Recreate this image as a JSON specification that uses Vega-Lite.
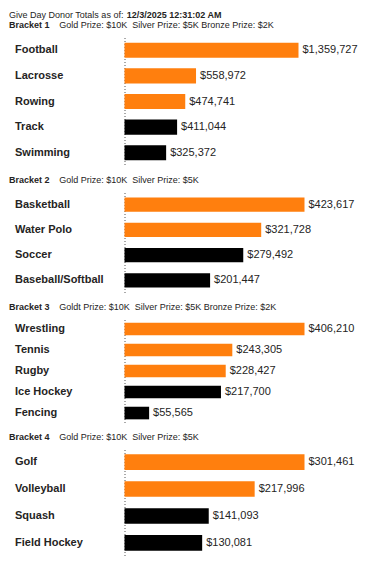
{
  "$schema": "https://vega.github.io/schema/vega-lite/v6.json",
  "padding": {"left": 8.5, "top": 10.5, "right": 5, "bottom": 5},
  "title": {
    "text": "Give Day Donor Totals as of:",
    "subtitle": "\u200b\u2003\u2003\u2003\u2003\u2003\u2003\u2003\u2003\u2003\u2003\u2003\u2003\u2003\u200a12/3/2025 12:31:02 AM",
    "anchor": "start",
    "fontSize": 9,
    "fontWeight": "normal",
    "subtitleFontSize": 9,
    "subtitleFontWeight": "bold",
    "subtitlePadding": -9,
    "color": "#252423",
    "subtitleColor": "#252423",
    "font": "Liberation Sans",
    "subtitleFont": "Liberation Sans",
    "offset": 1,
    "dx": 0
  },
  "data": {
    "values": [
      {"bracket": 1, "sport": "Football", "amount": 1359727, "prize": "Gold"},
      {"bracket": 1, "sport": "Lacrosse", "amount": 558972, "prize": "Silver"},
      {"bracket": 1, "sport": "Rowing", "amount": 474741, "prize": "Bronze"},
      {"bracket": 1, "sport": "Track", "amount": 411044, "prize": "None"},
      {"bracket": 1, "sport": "Swimming", "amount": 325372, "prize": "None"},
      {"bracket": 2, "sport": "Basketball", "amount": 423617, "prize": "Gold"},
      {"bracket": 2, "sport": "Water Polo", "amount": 321728, "prize": "Silver"},
      {"bracket": 2, "sport": "Soccer", "amount": 279492, "prize": "None"},
      {"bracket": 2, "sport": "Baseball/Softball", "amount": 201447, "prize": "None"},
      {"bracket": 3, "sport": "Wrestling", "amount": 406210, "prize": "Gold"},
      {"bracket": 3, "sport": "Tennis", "amount": 243305, "prize": "Silver"},
      {"bracket": 3, "sport": "Rugby", "amount": 228427, "prize": "Bronze"},
      {"bracket": 3, "sport": "Ice Hockey", "amount": 217700, "prize": "None"},
      {"bracket": 3, "sport": "Fencing", "amount": 55565, "prize": "None"},
      {"bracket": 4, "sport": "Golf", "amount": 301461, "prize": "Gold"},
      {"bracket": 4, "sport": "Volleyball", "amount": 217996, "prize": "Silver"},
      {"bracket": 4, "sport": "Squash", "amount": 141093, "prize": "None"},
      {"bracket": 4, "sport": "Field Hockey", "amount": 130081, "prize": "None"}
    ]
  },
  "spacing": 10,
  "resolve": {"scale": {"x": "independent", "y": "independent"}},
  "vconcat": [
    {
      "title": {"text": "Bracket 1", "subtitle": "\u200b\u2003\u2003\u2003\u2003\u2003\u2002\u200aGold Prize: $10K\u00a0 Silver Prize: $5K Bronze Prize: $2K"},
      "transform": [{"filter": "datum.bracket == 1"}],
      "width": 240,
      "height": 128,
      "encoding": {
        "y": {"field": "sport", "type": "nominal", "sort": {"field": "amount", "order": "descending"}, "scale": {"paddingInner": 0.41, "paddingOuter": 0.2}},
        "x": {"field": "amount", "type": "quantitative", "scale": {"domain": [0, 1875486], "nice": false}, "axis": null}
      },
      "layer": [
        {"mark": {"type": "bar"}, "encoding": {"color": {"field": "prize", "type": "nominal", "scale": {"domain": ["Gold", "Silver", "Bronze", "None"], "range": ["#FF7F0E", "#FF7F0E", "#FF7F0E", "#000000"]}, "legend": null}}},
        {"mark": {"type": "text", "align": "left", "baseline": "middle", "dx": 4, "fontSize": 11, "color": "#252423", "font": "Liberation Sans"}, "encoding": {"text": {"field": "amount", "type": "quantitative", "format": "$,.0f"}}}
      ]
    },
    {
      "title": {"text": "Bracket 2", "subtitle": "\u200b\u2003\u2003\u2003\u2003\u2003\u2002\u200aGold Prize: $10K\u00a0 Silver Prize: $5K"},
      "transform": [{"filter": "datum.bracket == 2"}],
      "width": 240,
      "height": 100,
      "encoding": {
        "y": {"field": "sport", "type": "nominal", "sort": {"field": "amount", "order": "descending"}, "scale": {"paddingInner": 0.44, "paddingOuter": 0.2}},
        "x": {"field": "amount", "type": "quantitative", "scale": {"domain": [0, 564823], "nice": false}, "axis": null}
      },
      "layer": [
        {"mark": {"type": "bar"}, "encoding": {"color": {"field": "prize", "type": "nominal", "scale": {"domain": ["Gold", "Silver", "Bronze", "None"], "range": ["#FF7F0E", "#FF7F0E", "#FF7F0E", "#000000"]}, "legend": null}}},
        {"mark": {"type": "text", "align": "left", "baseline": "middle", "dx": 4, "fontSize": 11, "color": "#252423", "font": "Liberation Sans"}, "encoding": {"text": {"field": "amount", "type": "quantitative", "format": "$,.0f"}}}
      ]
    },
    {
      "title": {"text": "Bracket 3", "subtitle": "\u200b\u2003\u2003\u2003\u2003\u2003\u2002\u200aGoldt Prize: $10K\u00a0 Silver Prize: $5K Bronze Prize: $2K"},
      "transform": [{"filter": "datum.bracket == 3"}],
      "width": 240,
      "height": 103,
      "encoding": {
        "y": {"field": "sport", "type": "nominal", "sort": {"field": "amount", "order": "descending"}, "scale": {"paddingInner": 0.4, "paddingOuter": 0.15}},
        "x": {"field": "amount", "type": "quantitative", "scale": {"domain": [0, 541613], "nice": false}, "axis": null}
      },
      "layer": [
        {"mark": {"type": "bar"}, "encoding": {"color": {"field": "prize", "type": "nominal", "scale": {"domain": ["Gold", "Silver", "Bronze", "None"], "range": ["#FF7F0E", "#FF7F0E", "#FF7F0E", "#000000"]}, "legend": null}}},
        {"mark": {"type": "text", "align": "left", "baseline": "middle", "dx": 4, "fontSize": 11, "color": "#252423", "font": "Liberation Sans"}, "encoding": {"text": {"field": "amount", "type": "quantitative", "format": "$,.0f"}}}
      ]
    },
    {
      "title": {"text": "Bracket 4", "subtitle": "\u200b\u2003\u2003\u2003\u2003\u2003\u2002\u200aGold Prize: $10K\u00a0 Silver Prize: $5K"},
      "transform": [{"filter": "datum.bracket == 4"}],
      "width": 240,
      "height": 106,
      "encoding": {
        "y": {"field": "sport", "type": "nominal", "sort": {"field": "amount", "order": "descending"}, "scale": {"paddingInner": 0.42, "paddingOuter": 0.18}},
        "x": {"field": "amount", "type": "quantitative", "scale": {"domain": [0, 401948], "nice": false}, "axis": null}
      },
      "layer": [
        {"mark": {"type": "bar"}, "encoding": {"color": {"field": "prize", "type": "nominal", "scale": {"domain": ["Gold", "Silver", "Bronze", "None"], "range": ["#FF7F0E", "#FF7F0E", "#FF7F0E", "#000000"]}, "legend": null}}},
        {"mark": {"type": "text", "align": "left", "baseline": "middle", "dx": 4, "fontSize": 11, "color": "#252423", "font": "Liberation Sans"}, "encoding": {"text": {"field": "amount", "type": "quantitative", "format": "$,.0f"}}}
      ]
    }
  ],
  "config": {
    "font": "Liberation Sans",
    "view": {"stroke": null},
    "title": {
      "anchor": "start",
      "fontSize": 9,
      "fontWeight": "bold",
      "subtitleFontSize": 9,
      "subtitleFontWeight": "normal",
      "subtitlePadding": -9,
      "color": "#252423",
      "subtitleColor": "#252423",
      "font": "Liberation Sans",
      "subtitleFont": "Liberation Sans",
      "offset": 8,
      "dx": -5.5
    },
    "axisY": {
      "title": null,
      "ticks": false,
      "labelAlign": "left",
      "labelPadding": 110,
      "labelFontSize": 11,
      "labelFontWeight": "bold",
      "labelColor": "#252423",
      "labelFont": "Liberation Sans",
      "labelLimit": 200,
      "domainColor": "#555555",
      "domainDash": [1, 2],
      "domainWidth": 1,
      "grid": false
    }
  }
}
